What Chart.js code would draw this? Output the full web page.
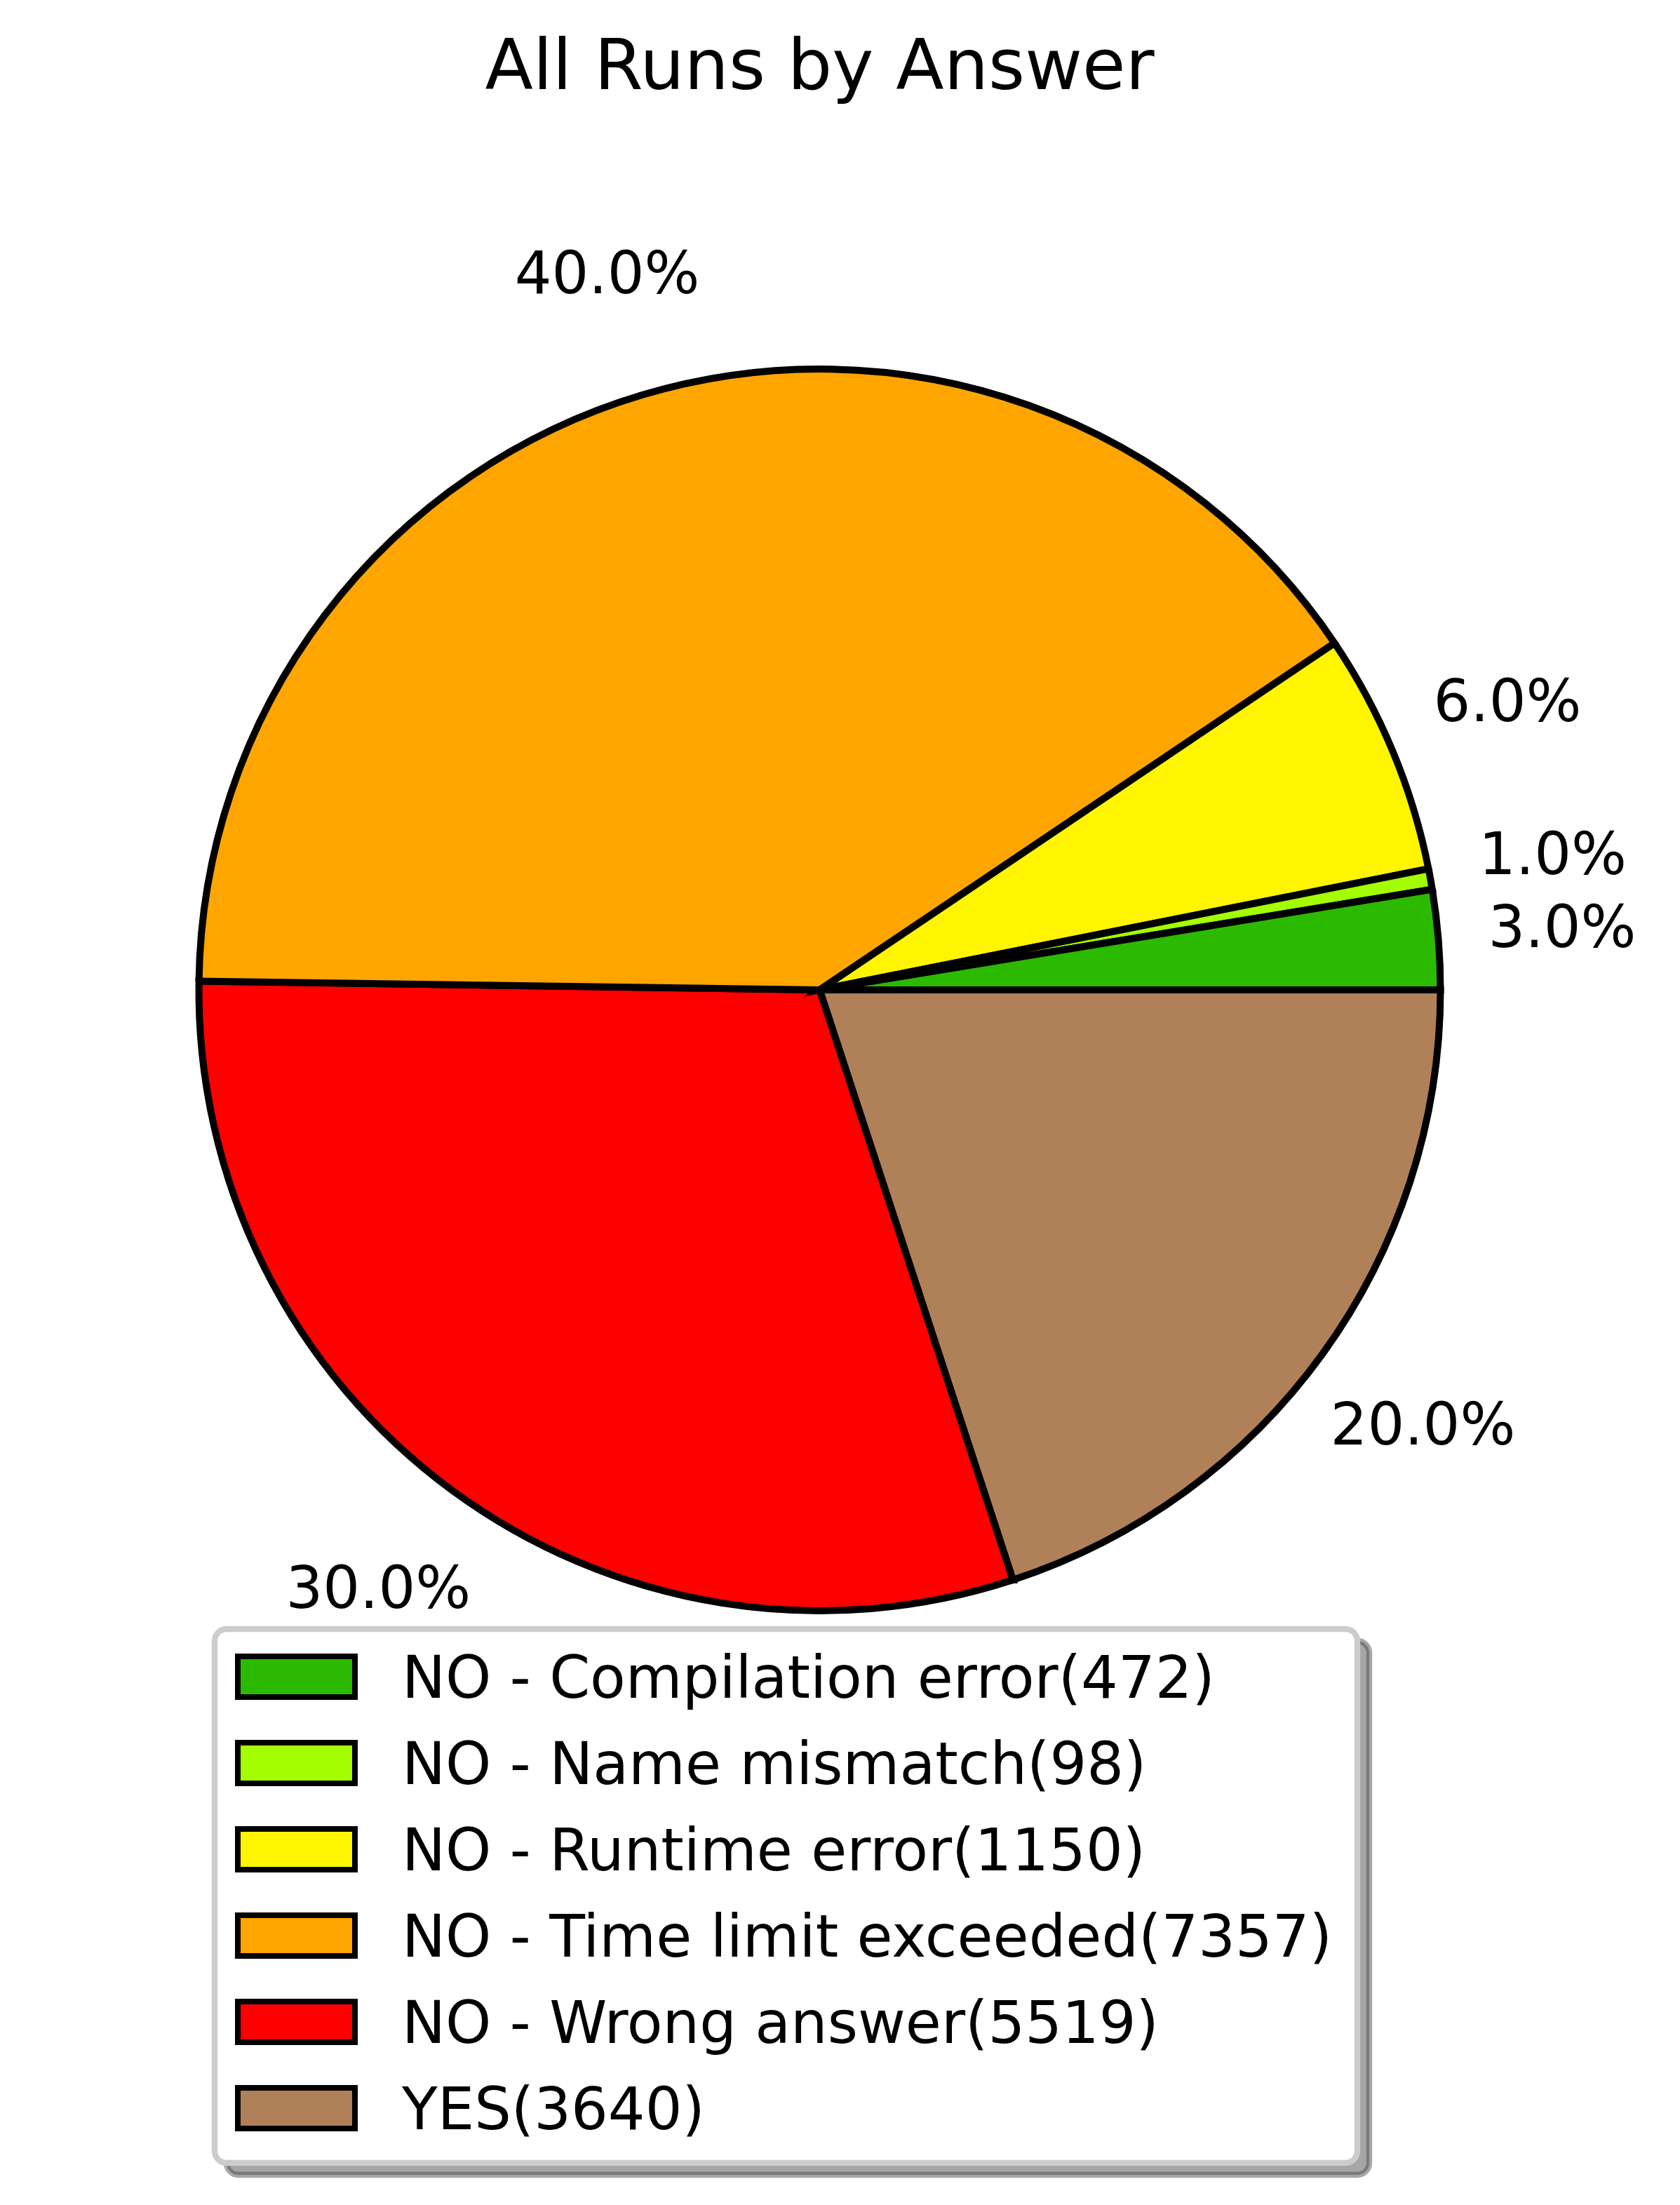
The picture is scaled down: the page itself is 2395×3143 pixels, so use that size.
<!DOCTYPE html>
<html>
<head>
<meta charset="utf-8">
<title>All Runs by Answer</title>
<script src="https://cdn.jsdelivr.net/npm/chart.js@4.4.1/dist/chart.umd.min.js"></script>
<style>
  body { margin: 0; background: #ffffff; }
  #grafica { display: block; }
</style>
</head>
<body>
<canvas id="grafica" width="2395" height="3143"></canvas>
<script>
var respuestas = ['NO - Compilation error', 'NO - Name mismatch', 'NO - Runtime error', 'NO - Time limit exceeded', 'NO - Wrong answer', 'YES'];
var corridas = [472, 98, 1150, 7357, 5519, 3640];
var colores = ['#2bba00', '#a3ff00', '#fff500', '#ffa500', '#ff0000', '#b08059'];

var total = corridas.reduce(function(a, b) { return a + b; }, 0);

function porcentaje(v)
{
  return Math.round(v / total * 100).toFixed(1) + '%';
}

// matplotlib va contra reloj desde las 3; chart.js va a favor -> invertimos
var labelsPie = respuestas.slice().reverse();
var datosPie = corridas.slice().reverse();
var coloresPie = colores.slice().reverse();

var FUENTE = '"DejaVu Sans"';

function caja(ctx, x, y, w, h, r)
{
  ctx.beginPath();
  ctx.moveTo(x + r, y);
  ctx.arcTo(x + w, y, x + w, y + h, r);
  ctx.arcTo(x + w, y + h, x, y + h, r);
  ctx.arcTo(x, y + h, x, y, r);
  ctx.arcTo(x, y, x + w, y, r);
  ctx.closePath();
}

var etiquetas = {
  id: 'etiquetas',
  afterDatasetsDraw: function(chart)
  {
    var ctx = chart.ctx;
    var meta = chart.getDatasetMeta(0);
    var datos = chart.data.datasets[0].data;
    ctx.save();
    ctx.font = '83px ' + FUENTE;
    ctx.fillStyle = '#000000';
    ctx.textAlign = 'center';
    ctx.textBaseline = 'alphabetic';
    meta.data.forEach(function(arco, i)
    {
      var p = arco.getProps(['x', 'y', 'startAngle', 'endAngle', 'outerRadius'], true);
      var medio = (p.startAngle + p.endAngle) / 2;
      var r = p.outerRadius * 1.2;
      ctx.fillText(porcentaje(datos[i]), p.x + Math.cos(medio) * r, p.y + Math.sin(medio) * r + 25);
    });
    ctx.restore();
  }
};

var leyenda = {
  id: 'leyenda',
  afterDraw: function(chart)
  {
    var ctx = chart.ctx;
    var x = 306, y = 2322, w = 1629, h = 761, r = 17;
    ctx.save();
    // sombra
    caja(ctx, x + 17, y + 17, w, h, r);
    ctx.fillStyle = 'rgba(77,77,77,0.5)';
    ctx.fill();
    ctx.lineWidth = 8.3;
    ctx.strokeStyle = 'rgba(77,77,77,0.5)';
    ctx.stroke();
    // marco
    caja(ctx, x, y, w, h, r);
    ctx.fillStyle = '#ffffff';
    ctx.fill();
    ctx.strokeStyle = '#cccccc';
    ctx.stroke();

    ctx.font = '83px ' + FUENTE;
    ctx.textAlign = 'left';
    ctx.textBaseline = 'alphabetic';
    for (var i = 0; i < respuestas.length; i++)
    {
      var cy = 2390 + i * 123;
      ctx.fillStyle = colores[i];
      ctx.fillRect(339, cy - 29, 167, 58);
      ctx.lineWidth = 8;
      ctx.strokeStyle = '#000000';
      ctx.strokeRect(339, cy - 29, 167, 58);
      ctx.fillStyle = '#000000';
      ctx.fillText(respuestas[i] + '(' + corridas[i] + ')', 573, cy + 30);
    }
    ctx.restore();
  }
};

var chart = new Chart(document.getElementById('grafica'), {
  type: 'pie',
  data: {
    labels: labelsPie,
    datasets: [{
      data: datosPie,
      backgroundColor: coloresPie,
      borderColor: '#000000',
      borderWidth: 10,
      borderJoinStyle: 'miter'
    }]
  },
  options: {
    responsive: false,
    animation: false,
    events: [],
    rotation: 90,
    radius: 885,
    layout: { padding: { top: 0, left: 0, right: 58, bottom: 482 } },
    plugins: {
      legend: { display: false },
      tooltip: { enabled: false },
      title: {
        display: true,
        text: 'All Runs by Answer',
        color: '#000000',
        font: { family: 'DejaVu Sans', size: 100, weight: 'normal' },
        padding: { top: 41, bottom: 0 }
      }
    }
  },
  plugins: [etiquetas, leyenda]
});
</script>
</body>
</html>
